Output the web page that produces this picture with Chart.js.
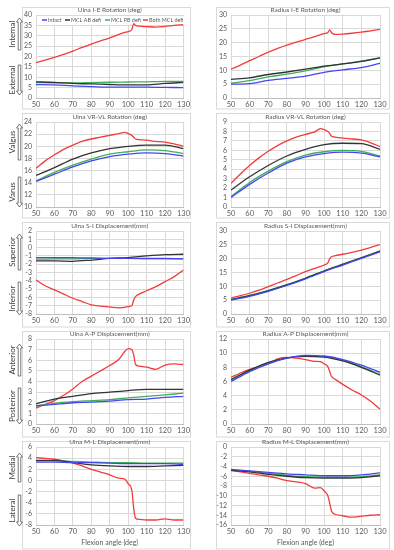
<!DOCTYPE html>
<html>
<head>
<meta charset="utf-8">
<script src="https://cdn.jsdelivr.net/npm/chart.js@4/dist/chart.umd.min.js"></script>
<style>
  body { margin: 0; background: #fff; }
  #wrap { position: relative; width: 394px; height: 550px; }
  canvas { position: absolute; }
</style>
</head>
<body>
<div id="wrap"></div>
<script>
// flexion angles: smooth curves are sampled every 10 deg, the red curve more densely
const angles = [50, 60, 70, 80, 90, 100, 110, 120, 130];
const redAngles = [50, 55, 60, 65, 70, 75, 80, 85, 90, 95, 98, 100, 102, 103, 104, 106, 110, 115, 120, 125, 130];

const seriesNames = ["Intact", "MCL AB defi", "MCL PB defi", "Both MCL defi"];
const seriesColors = ["#4646f0", "#333333", "#3fae5a", "#f23c3c"];

// --- Ulna I-E rotation ---
const ulnaIE_intact = [6.5, 6.3, 5.8, 5.5, 5.2, 5.2, 5.2, 5.1, 5.0];
const ulnaIE_ab = [7.8, 7.5, 7.0, 6.8, 6.5, 6.3, 6.3, 7.0, 7.5];
const ulnaIE_pb = [7.5, 7.3, 7.3, 7.4, 7.6, 7.7, 7.8, 8.0, 8.0];
const ulnaIE_both = [17.0, 18.3, 19.6, 21.0, 22.6, 24.4, 26.0, 27.5, 29.0, 30.7, 31.6, 32.0, 33.0, 35.8, 35.0, 34.6, 34.4, 34.2, 34.5, 35.0, 35.3];

// --- Radius I-E rotation ---
const radIE_intact = [5.0, 5.2, 6.4, 7.1, 7.9, 9.3, 10.2, 11.0, 12.5];
const radIE_ab = [6.7, 7.3, 8.5, 9.4, 10.4, 11.5, 12.3, 13.2, 14.5];
const radIE_pb = [5.4, 6.3, 7.6, 8.6, 9.8, 11.3, 12.3, 13.3, 14.5];
const radIE_both = [10.4, 11.9, 13.5, 15.0, 16.6, 17.9, 19.1, 20.2, 21.2, 22.2, 22.9, 23.3, 23.7, 24.6, 23.6, 23.0, 23.1, 23.4, 23.8, 24.3, 24.8];

// --- Ulna VR-VL rotation ---
const ulnaVV_intact = [14.2, 15.4, 16.6, 17.6, 18.3, 18.7, 18.9, 18.8, 18.4];
const ulnaVV_ab = [15.2, 16.5, 17.9, 18.9, 19.6, 20.0, 20.2, 20.2, 19.6];
const ulnaVV_pb = [14.3, 15.7, 16.9, 17.9, 18.7, 19.1, 19.4, 19.3, 18.8];
const ulnaVV_both = [16.4, 17.6, 18.6, 19.5, 20.2, 20.8, 21.2, 21.5, 21.8, 22.1, 22.3, 22.1, 21.8, 21.5, 21.2, 21.1, 21.0, 20.8, 20.7, 20.4, 20.0];

// --- Radius VR-VL rotation ---
const radVV_intact = [1.0, 2.4, 3.6, 4.65, 5.3, 5.65, 5.8, 5.7, 5.3];
const radVV_ab = [1.8, 3.2, 4.4, 5.4, 6.1, 6.6, 6.75, 6.7, 6.1];
const radVV_pb = [1.1, 2.6, 3.8, 4.8, 5.5, 5.85, 6.0, 5.9, 5.4];
const radVV_both = [2.5, 3.5, 4.4, 5.2, 5.9, 6.5, 7.0, 7.4, 7.7, 7.95, 8.3, 8.2, 8.0, 7.8, 7.5, 7.4, 7.3, 7.2, 7.1, 6.8, 6.4];

// --- Ulna S-I displacement ---
const ulnaSI_intact = [-1.2, -1.2, -1.2, -1.25, -1.3, -1.3, -1.3, -1.3, -1.35];
const ulnaSI_ab = [-1.6, -1.6, -1.65, -1.5, -1.3, -1.2, -1.0, -0.85, -0.8];
const ulnaSI_pb = [-1.4, -1.35, -1.35, -1.3, -1.3, -1.3, -1.35, -1.35, -1.35];
const ulnaSI_both = [-3.9, -4.6, -5.1, -5.6, -6.1, -6.5, -6.9, -7.05, -7.15, -7.25, -7.2, -7.1, -7.0, -6.3, -5.9, -5.6, -5.2, -4.7, -4.1, -3.5, -2.7];

// --- Radius S-I displacement ---
const radSI_intact = [5.0, 6.4, 8.2, 10.3, 12.7, 15.3, 17.7, 20.1, 22.5];
const radSI_ab = [5.2, 6.6, 8.4, 10.5, 12.9, 15.5, 17.9, 20.3, 22.7];
const radSI_pb = [5.3, 6.7, 8.5, 10.6, 13.0, 15.6, 18.0, 20.4, 22.8];
const radSI_both = [5.8, 6.6, 7.5, 8.6, 9.9, 11.2, 12.5, 13.9, 15.3, 16.5, 17.2, 17.7, 18.5, 20.0, 20.7, 21.1, 21.6, 22.3, 23.1, 24.1, 25.1];

// --- Ulna A-P displacement ---
const ulnaAP_intact = [1.7, 1.85, 2.0, 2.05, 2.15, 2.3, 2.35, 2.5, 2.6];
const ulnaAP_ab = [1.9, 2.35, 2.6, 2.85, 3.0, 3.15, 3.25, 3.25, 3.25];
const ulnaAP_pb = [1.7, 1.95, 2.1, 2.2, 2.3, 2.45, 2.6, 2.75, 2.9];
const ulnaAP_both = [1.5, 1.85, 2.2, 2.7, 3.3, 4.0, 4.5, 5.0, 5.5, 6.1, 6.8, 7.1, 7.0, 6.5, 5.6, 5.45, 5.35, 5.15, 5.55, 5.65, 5.6];

// --- Radius A-P displacement ---
const radAP_intact = [6.0, 7.4, 8.5, 9.3, 9.7, 9.6, 9.1, 8.3, 7.3];
const radAP_ab = [6.3, 7.6, 8.7, 9.35, 9.55, 9.45, 8.9, 8.0, 6.9];
const radAP_pb = [6.2, 7.5, 8.6, 9.3, 9.55, 9.5, 9.0, 8.1, 7.0];
const radAP_both = [6.6, 7.2, 7.7, 8.1, 8.5, 9.2, 9.4, 9.3, 9.1, 8.85, 8.8, 8.5, 8.1, 7.4, 6.7, 6.3, 5.6, 4.8, 4.1, 3.2, 2.1];

// --- Ulna M-L displacement ---
const ulnaML_intact = [3.3, 3.3, 3.2, 3.2, 3.1, 3.0, 3.0, 3.0, 2.9];
const ulnaML_ab = [3.6, 3.6, 3.2, 2.8, 2.6, 2.5, 2.5, 2.6, 2.7];
const ulnaML_pb = [3.5, 3.5, 3.4, 3.3, 3.2, 3.2, 3.1, 3.1, 3.1];
const ulnaML_both = [4.1, 3.95, 3.8, 3.5, 3.1, 2.6, 2.0, 1.5, 1.0, 0.4, 0.3, -0.6, -1.8, -5.0, -6.8, -7.0, -7.1, -7.1, -6.9, -7.1, -7.1];

// --- Radius M-L displacement ---
const radML_intact = [-4.6, -4.9, -5.2, -5.5, -5.7, -5.9, -5.9, -5.7, -5.3];
const radML_ab = [-4.8, -5.1, -5.6, -6.0, -6.3, -6.4, -6.4, -6.3, -5.9];
const radML_pb = [-4.7, -5.0, -5.4, -5.8, -6.1, -6.2, -6.2, -6.1, -5.7];
const radML_both = [-4.8, -5.1, -5.4, -5.7, -6.0, -6.4, -6.9, -7.15, -7.5, -8.45, -8.35, -9.0, -10.0, -11.5, -13.2, -13.8, -14.1, -14.4, -14.2, -14.0, -13.9];

const FONT = "Lato, 'Open Sans', sans-serif";
const TXT = "#595959";

// rows: canvas top, plot top offset, canvas height, x-axis height
const rows = [
  { top: 0,   pad: 15, h: 110, xh: 12, boxTop: 7 },
  { top: 110, pad: 12, h: 109, xh: 12, boxTop: 3 },
  { top: 219, pad: 12, h: 109, xh: 14, boxTop: 3 },
  { top: 328, pad: 11, h: 110, xh: 14, boxTop: 3 },
  { top: 438, pad: 9,  h: 112, xh: 25, boxTop: 3 }
];

// side labels of the left column (page y coords)
const sideLabels = [
  [["Internal", 18, 50, "up"], ["External", 65, 95, "down"]],
  [["Valgus", 124, 160, "up"], ["Varus", 177, 207, "down"]],
  [["Superior", 234, 270, "up"], ["Inferior", 282, 315, "down"]],
  [["Anterior", 344, 376, "up"], ["Posterior", 388, 424, "down"]],
  [["Medial", 453, 482, "up"], ["Lateral", 495, 526, "down"]]
];

function pts(xs, ys) {
  return xs.map((x, i) => ({ x: x, y: ys[i] }));
}

function drawArrow(ctx, x, y1, y2, dir) {
  const sw = 1.3, hw = 3, hl = 4;
  ctx.save();
  ctx.strokeStyle = "#555";
  ctx.lineWidth = 0.8;
  ctx.beginPath();
  if (dir === "up") {
    ctx.moveTo(x - sw, y2); ctx.lineTo(x - sw, y1 + hl); ctx.lineTo(x - hw, y1 + hl);
    ctx.lineTo(x, y1); ctx.lineTo(x + hw, y1 + hl); ctx.lineTo(x + sw, y1 + hl);
    ctx.lineTo(x + sw, y2); ctx.closePath();
  } else {
    ctx.moveTo(x - sw, y1); ctx.lineTo(x - sw, y2 - hl); ctx.lineTo(x - hw, y2 - hl);
    ctx.lineTo(x, y2); ctx.lineTo(x + hw, y2 - hl); ctx.lineTo(x + sw, y2 - hl);
    ctx.lineTo(x + sw, y1); ctx.closePath();
  }
  ctx.stroke();
  ctx.restore();
}

const panelPlugin = {
  id: "panel",
  beforeDraw(chart, args, o) {
    const ctx = chart.ctx;
    ctx.save();
    ctx.strokeStyle = "#d9d9d9";
    ctx.lineWidth = 1;
    ctx.strokeRect(o.boxX + 0.5, o.boxTop + 0.5, o.boxW, chart.height - o.boxTop - 1.5);
    ctx.restore();
  },
  afterDraw(chart, args, o) {
    const ctx = chart.ctx;
    const a = chart.chartArea;
    ctx.save();
    ctx.fillStyle = TXT;
    ctx.font = "6.5px " + FONT;
    ctx.textAlign = "center";
    ctx.textBaseline = "middle";
    ctx.fillText(o.title, (a.left + a.right) / 2, a.top - 5);
    if (o.side) {
      ctx.font = "8px " + FONT;
      ctx.fillStyle = "#404040";
      o.side.forEach(s => {
        const y1 = s[1] - o.top, y2 = s[2] - o.top;
        ctx.save();
        ctx.translate(12.5, (y1 + y2) / 2);
        ctx.rotate(-Math.PI / 2);
        ctx.fillText(s[0], 0, 0);
        ctx.restore();
        drawArrow(ctx, 19.5, y1, y2, s[3]);
      });
    }
    ctx.restore();
  },
  beforeDatasetsDraw(chart, args, o) {
    if (!o.legend) return;
    const ctx = chart.ctx;
    const a = chart.chartArea;
    const y = a.top + 5;
    const xs = [[42, 47], [65, 70], [105, 110], [143, 148]];
    ctx.save();
    ctx.fillStyle = "#fff";
    ctx.fillRect(40, a.top + 1, 145, 9);
    ctx.font = "5.4px " + FONT;
    ctx.textBaseline = "middle";
    xs.forEach((p, i) => {
      ctx.strokeStyle = seriesColors[i];
      ctx.lineWidth = 1.5;
      ctx.beginPath();
      ctx.moveTo(p[0], y);
      ctx.lineTo(p[1], y);
      ctx.stroke();
      ctx.fillStyle = TXT;
      ctx.fillText(seriesNames[i], p[1] + 1, y);
    });
    ctx.restore();
  }
};

function makePanel(row, col, title, yMin, yMax, step, intact, ab, pb, both) {
  const r = rows[row];
  const cv = document.createElement("canvas");
  const left = col === 0 ? 0 : 195;
  const w = col === 0 ? 192 : 197;
  cv.width = w;
  cv.height = r.h;
  cv.style.left = left + "px";
  cv.style.top = r.top + "px";
  document.getElementById("wrap").appendChild(cv);

  const all = [intact, ab, pb];
  const datasets = all.map((d, i) => ({
    label: seriesNames[i], data: pts(angles, d), borderColor: seriesColors[i]
  }));
  datasets.push({ label: seriesNames[3], data: pts(redAngles, both), borderColor: seriesColors[3] });

  const last = row === 4;
  new Chart(cv, {
    type: "line",
    data: { datasets: datasets },
    plugins: [panelPlugin],
    options: {
      responsive: false,
      animation: false,
      layout: { padding: { top: r.pad, right: col === 0 ? 7 : 12, bottom: 0, left: 0 } },
      elements: {
        point: { radius: 0 },
        line: { borderWidth: 1.3, cubicInterpolationMode: "monotone", fill: false }
      },
      plugins: {
        legend: { display: false },
        tooltip: { enabled: false },
        panel: {
          title: title, top: r.top, boxTop: r.boxTop,
          boxX: col === 0 ? 22 : 21, boxW: col === 0 ? 168 : 173,
          side: col === 0 ? sideLabels[row] : null,
          legend: row === 0 && col === 0
        }
      },
      scales: {
        x: {
          type: "linear", min: 50, max: 130,
          ticks: { stepSize: 10, autoSkip: false, color: TXT, font: { size: 7.5, family: FONT }, padding: 2, maxRotation: 0 },
          grid: { color: "#d9d9d9", drawTicks: false },
          border: { color: "#bfbfbf" },
          title: { display: last, text: "Flexion angle (deg)", color: TXT, font: { size: 7, family: FONT }, padding: { top: 0, bottom: 3 } },
          afterFit: s => { s.height = r.xh; }
        },
        y: {
          min: yMin, max: yMax,
          ticks: { stepSize: step, autoSkip: false, color: TXT, font: { size: 7, family: FONT }, padding: 4 },
          grid: { color: "#d9d9d9", drawTicks: false },
          border: { display: false },
          afterFit: s => { s.width = 36; }
        }
      }
    }
  });
}

makePanel(0, 0, "Ulna I-E Rotation (deg)", 0, 40, 5, ulnaIE_intact, ulnaIE_ab, ulnaIE_pb, ulnaIE_both);
makePanel(0, 1, "Radius I-E Rotation (deg)", 0, 30, 5, radIE_intact, radIE_ab, radIE_pb, radIE_both);
makePanel(1, 0, "Ulna VR-VL Rotation (deg)", 10, 24, 2, ulnaVV_intact, ulnaVV_ab, ulnaVV_pb, ulnaVV_both);
makePanel(1, 1, "Radius VR-VL Rotation (deg)", 0, 9, 1, radVV_intact, radVV_ab, radVV_pb, radVV_both);
makePanel(2, 0, "Ulna S-I Displacement(mm)", -8, 2, 1, ulnaSI_intact, ulnaSI_ab, ulnaSI_pb, ulnaSI_both);
makePanel(2, 1, "Radius S-I Displacement(mm)", 0, 30, 5, radSI_intact, radSI_ab, radSI_pb, radSI_both);
makePanel(3, 0, "Ulna A-P Displacement(mm)", 0, 8, 1, ulnaAP_intact, ulnaAP_ab, ulnaAP_pb, ulnaAP_both);
makePanel(3, 1, "Radius A-P Displacement(mm)", 0, 12, 2, radAP_intact, radAP_ab, radAP_pb, radAP_both);
makePanel(4, 0, "Ulna M-L Displacement(mm)", -8, 6, 2, ulnaML_intact, ulnaML_ab, ulnaML_pb, ulnaML_both);
makePanel(4, 1, "Radius M-L Displacement(mm)", -16, 0, 2, radML_intact, radML_ab, radML_pb, radML_both);
</script>
</body>
</html>
